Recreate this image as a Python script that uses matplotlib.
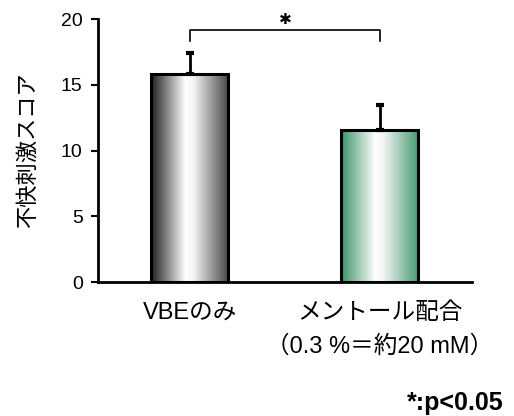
import matplotlib.pyplot as plt
import numpy as np
from matplotlib.colors import LinearSegmentedColormap
from matplotlib.patches import Rectangle

plt.rcParams['font.family'] = ['Liberation Sans', 'Noto Sans CJK JP', 'DejaVu Sans']

# データ
labels = ['VBEのみ', 'メントール配合\n（0.3 %＝約20 mM）']
means = [15.8, 11.6]
errors = [1.6, 1.9]
edge_colors = ['#1e1e1e', '#3a9468']
right_colors = ['#4a4a4a', '#4a9c74']

fig = plt.figure(figsize=(5.14, 4.16), dpi=100)
ax = fig.add_axes([0.1907, 0.322, 0.918 - 0.1907, 0.632])

x = np.arange(len(means))
width = 0.405

for i in range(len(means)):
    # グラデーション（端が濃く、中央が白）
    cmap = LinearSegmentedColormap.from_list(
        'g%d' % i,
        [(0.0, edge_colors[i]), (0.45, '#ffffff'), (0.55, '#f4f4f4'), (1.0, right_colors[i])])
    grad = np.linspace(0, 1, 256).reshape(1, -1)
    left = x[i] - width / 2
    im = ax.imshow(grad, cmap=cmap, aspect='auto',
                   extent=[left, left + width, 0, means[i]], zorder=1)
    rect = Rectangle((left, 0), width, means[i], facecolor='none',
                     edgecolor='black', linewidth=2.2, zorder=3)
    ax.add_patch(rect)
    im.set_clip_path(rect)
    # エラーバー（上側のみ）
    ax.errorbar(x[i], means[i], yerr=[[0], [errors[i]]], fmt='none',
                ecolor='black', elinewidth=2, capsize=3, capthick=3, zorder=2)

# 有意差ブラケット
y_br = 19.2
ax.plot([x[0], x[0], x[1], x[1]], [18.3, y_br, y_br, 18.3],
        color='black', linewidth=1.2, clip_on=False)
ax.text((x[0] + x[1]) / 2, 20.0, '✱', ha='center', va='center',
        fontsize=11, family='DejaVu Sans')

ax.set_xlim(-0.484, 1.484)
ax.set_ylim(0, 20)
ax.set_yticks([0, 5, 10, 15, 20])
ax.tick_params(axis='y', labelsize=14, length=5, width=1.5, direction='out', pad=6)
ax.set_xticks(x)
ax.set_xticklabels(labels, fontsize=17, linespacing=1.7)
ax.tick_params(axis='x', length=0, pad=14)
for s in ['top', 'right']:
    ax.spines[s].set_visible(False)
ax.spines['left'].set_linewidth(2)
ax.spines['bottom'].set_linewidth(2)
ax.set_ylabel('不快刺激スコア', fontsize=16, labelpad=16)

fig.text(0.98, 0.032, '*:p<0.05', ha='right', va='center', fontsize=18,
         fontweight='bold')

fig.savefig('out.png', dpi=100, facecolor='white')
